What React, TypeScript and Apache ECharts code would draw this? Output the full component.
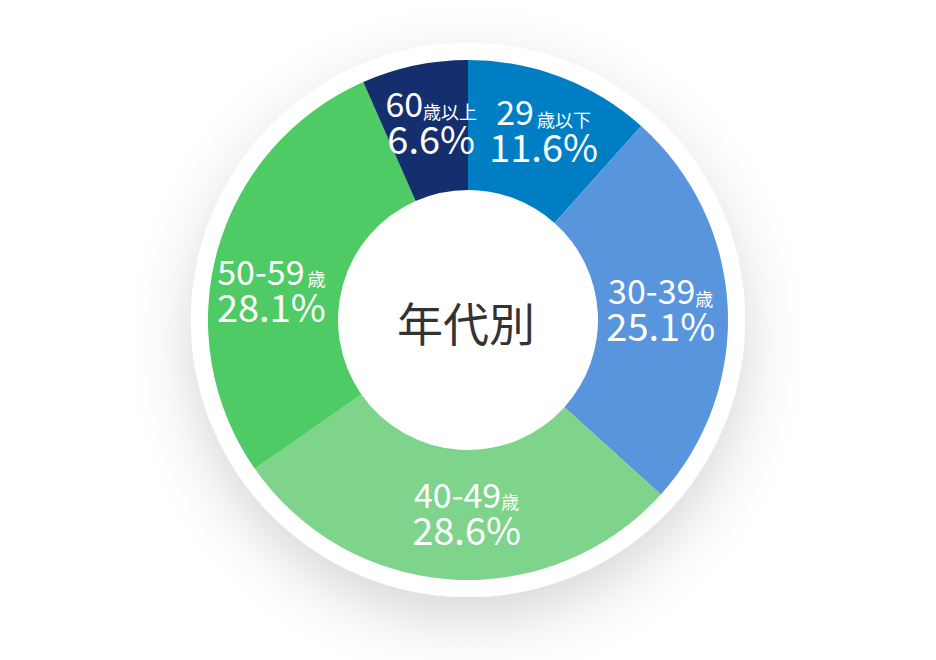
import * as echarts from "echarts";
import { useEffect, useRef } from "react";

// 年代別 構成比
const ageLabels = ["29", "30-39", "40-49", "50-59", "60"];
const ageSuffix = ["歳以下", "歳", "歳", "歳", "歳以上"];
const shares = [11.6, 25.1, 28.6, 28.1, 6.6];
const sliceColors = ["#007EC4", "#5895DD", "#7ED48A", "#4FCB66", "#142E6E"];
// 中の文字を少しずらす (px)
const labelShift = [
  [5, -7],
  [-5, -2],
  [11, -7],
  [-6, 21],
  [4, -6],
];
const gapAfter = [true, false, false, true, false];

const FONT = '"Noto Sans CJK JP", "Noto Sans", sans-serif';

const App = () => {
  const chartRef = useRef<HTMLDivElement>(null);

  useEffect(() => {
    document.body.style.margin = "0";
    const chart = echarts.init(chartRef.current, null, { renderer: "svg" });
    chart.setOption({
      animation: false,
      backgroundColor: "#fff",
      graphic: [
        {
          type: "text",
          z: 10,
          style: {
            text: "年代別",
            x: 466,
            y: 321,
            align: "center",
            verticalAlign: "middle",
            fontSize: 46,
            fontFamily: FONT,
            fill: "#333",
          },
        },
      ],
      series: [
        {
          type: "pie",
          silent: true,
          z: 1,
          center: [468, 320],
          radius: [0, 277],
          label: { show: false },
          labelLine: { show: false },
          itemStyle: {
            color: "#fff",
            shadowBlur: 60,
            shadowColor: "rgba(0,0,0,0.16)",
            shadowOffsetY: 22,
          },
          data: [1],
        },
        {
          type: "pie",
          silent: true,
          z: 2,
          center: [468, 320],
          radius: [130, 260],
          startAngle: 90,
          clockwise: true,
          labelLine: { show: false },
          label: {
            show: true,
            position: "inside",
            color: "#fff",
            fontFamily: FONT,
            align: "center",
            rich: {
              a: { fontSize: 34, fontFamily: FONT, color: "#fff", lineHeight: 35, verticalAlign: "bottom" },
              b: { fontSize: 18, fontFamily: FONT, color: "#fff", lineHeight: 27, verticalAlign: "bottom" },
              g: { fontSize: 18, fontFamily: FONT, color: "#fff", lineHeight: 27, verticalAlign: "bottom", padding: [0, 0, 0, 3] },
              c: { fontSize: 38, fontFamily: FONT, color: "#fff", lineHeight: 36 },
            },
          },
          data: shares.map((v, i) => ({
            value: v,
            itemStyle: { color: sliceColors[i] },
            label: {
              offset: labelShift[i],
              formatter: `{a|${ageLabels[i]}}{${gapAfter[i] ? "g" : "b"}|${ageSuffix[i]}}\n{c|${v.toFixed(1)}%}`,
            },
          })),
        },
      ],
    });
    return () => {
      chart.dispose();
    };
  }, []);

  return <div ref={chartRef} style={{ width: 936, height: 660 }}></div>;
};

export default App;
